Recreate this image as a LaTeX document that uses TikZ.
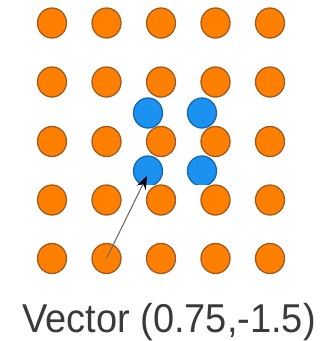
\documentclass[tikz,border=0pt]{standalone}
\usepackage{fontspec}
\setmainfont{Liberation Sans}
\usetikzlibrary{arrows.meta,shapes.geometric}
\definecolor{orfill}{HTML}{FF8000}
\definecolor{ordraw}{HTML}{A05A20}
\definecolor{blfill}{HTML}{1C92F0}
\definecolor{bldraw}{HTML}{1466B0}
\definecolor{txt}{HTML}{3A3A3A}
\definecolor{arr}{HTML}{6E6E6E}
\tikzset{
  odot/.style={ellipse, minimum width=29pt, minimum height=30pt, inner sep=0pt, fill=orfill, draw=ordraw, line width=1.3pt},
  bdot/.style={ellipse, minimum width=29pt, minimum height=30pt, inner sep=0pt, fill=blfill, draw=bldraw, line width=1.3pt},
  vec/.style={draw=arr, line width=1.1pt, -{Stealth[length=13pt,width=10pt,color=black]}}
}
\begin{document}
\begin{tikzpicture}[x=1pt,y=-1pt]
\useasboundingbox (0,0) rectangle (327,341);
% orange rows 1-3
\foreach \c/\x in {1/52,2/106.5,3/161,4/215.5,5/270}{
  \foreach \r/\y in {1/23,2/82,3/141.5}{
    \node[odot] (o\c\r) at (\x,\y) {};
  }
}
% blue dots
\node[bdot] (b1) at (148,113) {};
\node[bdot] (b2) at (202,113) {};
\node[bdot] (b3) at (148,171) {};
\node[bdot] (b4) at (202,171) {};
% white panel clipping lower blue dots
\fill[white] (28,185) rectangle (297,274);
% orange rows 4-5
\foreach \c/\x in {1/52,2/106.5,3/161,4/215.5,5/270}{
  \foreach \r/\y in {4/200,5/258.5}{
    \node[odot] (o\c\r) at (\x,\y) {};
  }
}
\coordinate (tip) at (147,176);
\draw[vec] (o25.center) -- (tip);
\node[txt, anchor=base, inner sep=0pt, font=\fontsize{38}{40}\selectfont, yscale=1.06] (lbl) at (169,332) {Vector (0.75,-1.5)};
\end{tikzpicture}
\end{document}
